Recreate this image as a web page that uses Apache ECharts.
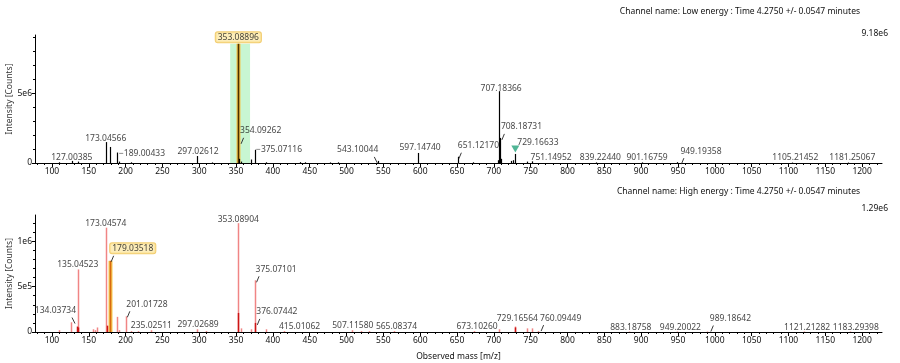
<!DOCTYPE html>
<html>
<head>
<meta charset="utf-8">
<script src="https://cdn.jsdelivr.net/npm/echarts@6/dist/echarts.min.js"></script>
<style>
  html, body { margin: 0; background: #fff; }
  #chart { width: 900px; height: 363px; }
</style>
</head>
<body>
<div id="chart"></div>
<script>
// axis ticks
var xTicks = [100, 150, 200, 250, 300, 350, 400, 450, 500, 550, 600, 650, 700, 750, 800, 850, 900, 950, 1000, 1050, 1100, 1150, 1200];
var lowYTicks = [0, 5e6];
var highYTicks = [0, 5e5, 1e6];

// low energy channel (black sticks)
var lowMass = [110.0, 127.00385, 135.0, 173.04566, 179.04, 189.00433, 191.0, 207.0, 297.02612, 317.0,
  353.08896, 354.09262, 356.1, 370.1, 375.07116, 391.0, 437.0, 444.0, 478.0, 488.0,
  543.10044, 597.14740, 651.12170, 672.0, 705.2, 707.18366, 708.18731, 709.2, 723.2, 726.2,
  729.16633, 745.1, 751.14952, 839.22440, 901.16759, 949.19358, 1105.21452, 1181.25067];
var lowInt = [0.05e6, 0.15e6, 0.1e6, 1.5e6, 1.15e6, 0.75e6, 0.1e6, 0.05e6, 0.5e6, 0.04e6,
  8.55e6, 0.3e6, 0.1e6, 0.25e6, 0.95e6, 0.05e6, 0.06e6, 0.05e6, 0.04e6, 0.05e6,
  0.15e6, 0.72e6, 0.45e6, 0.05e6, 0.2e6, 5.15e6, 1.8e6, 0.3e6, 0.15e6, 0.2e6,
  0.65e6, 0.1e6, 0.12e6, 0.04e6, 0.04e6, 0.06e6, 0.03e6, 0.03e6];
var lowLabels = ['127.00385', '173.04566', '189.00433', '297.02612', '353.08896', '354.09262', '375.07116',
  '543.10044', '597.14740', '651.12170', '707.18366', '708.18731', '729.16633', '751.14952',
  '839.22440', '901.16759', '949.19358', '1105.21452', '1181.25067'];
var lowHighlight = 353.08896;
var lowBand = [342, 369];
var lowMarker = 729.16633;

// high energy channel (red sticks, darker overlay)
var highMass = [110.0, 126.0, 135.04523, 156.0, 158.0, 161.0, 173.04574, 179.03518, 189.0, 191.0,
  201.01728, 207.0, 217.0, 235.02511, 297.02689, 309.0, 353.08904, 356.1, 370.1, 375.07101,
  391.1, 415.01062, 507.11580, 519.0, 531.0, 565.08374, 673.10260, 707.2, 729.16564, 745.2,
  751.2, 760.09449, 883.18758, 949.20022, 989.18642, 1121.21282, 1183.29398];
var highInt = [0.2e5, 1.07e5, 6.9e5, 0.3e5, 0.2e5, 0.5e5, 11.5e5, 7.85e5, 1.67e5, 0.2e5,
  1.73e5, 0.1e5, 0.1e5, 0.2e5, 0.3e5, 0.1e5, 12.0e5, 0.4e5, 0.3e5, 5.7e5,
  0.3e5, 0.1e5, 0.2e5, 0.1e5, 0.1e5, 0.1e5, 0.1e5, 0.3e5, 0.6e5, 0.4e5,
  0.4e5, 0.1e5, 0.05e5, 0.05e5, 0.05e5, 0.05e5, 0.05e5];
var highDarkMass = [134.03734, 136.0, 175.0, 353.1, 376.07442, 729.2];
var highDarkInt = [0.6e5, 0.5e5, 0.7e5, 2.1e5, 1.0e5, 0.5e5];
var highLabels = ['134.03734', '135.04523', '173.04574', '179.03518', '201.01728', '235.02511', '297.02689',
  '353.08904', '375.07101', '376.07442', '415.01062', '507.11580', '565.08374', '673.10260',
  '729.16564', '760.09449', '883.18758', '949.20022', '989.18642', '1121.21282', '1183.29398'];
var highHighlight = 179.03518;

// label placement tweaks (pixels); lead = short leader mark under the label
var lowPlace = {
  '127.00385': { dy: 3 }, '173.04566': { dy: 2 }, '189.00433': { pos: 'right', dash: true, dy: 1 },
  '297.02612': { dx: 1, dy: 2 }, '353.08896': { box: true }, '354.09262': { align: 'left', dx: 1, dy: -22, lead: '/' },
  '375.07116': { pos: 'right', dash: true }, '543.10044': { align: 'right', dy: -5, lead: '\\' },
  '597.14740': { dx: 2, dy: 1 }, '651.12170': { align: 'left', dy: -5, lead: '/' }, '707.18366': { dx: 2, dy: 3 },
  '708.18731': { align: 'left', dx: 1, dy: -5, lead: '/' }, '729.16633': { align: 'left', dx: 2, dy: -5 },
  '751.14952': { align: 'left', dx: -1, dy: 2 }, '839.22440': { dx: 4, dy: 1 }, '901.16759': { dx: 5, dy: 1 },
  '949.19358': { align: 'left', dx: 3, dy: -5, lead: '/' }, '1105.21452': { dx: 3, dy: 1 }, '1181.25067': { dx: 4, dy: 1 }
};
var highPlace = {
  '134.03734': { align: 'right', dx: -1, dy: -10, lead: '\\' }, '135.04523': { dy: 1 }, '173.04574': { dy: 2 },
  '179.03518': { align: 'left', dy: -6, box: true, lead: '/' }, '201.01728': { align: 'left', dy: -6, lead: '/' },
  '235.02511': { dy: 1 }, '297.02689': { dx: 1, dy: 1 }, '353.08904': { dy: 2 },
  '375.07101': { align: 'left', dx: 1, dy: -5, lead: '/' }, '376.07442': { align: 'left', dx: 1, dy: -5, lead: '/' },
  '415.01062': { align: 'left', dx: -5, dy: 1 }, '507.11580': { dx: 1, dy: 1 }, '565.08374': { dx: 2, dy: 1 },
  '673.10260': { dx: 3, dy: 1 }, '729.16564': { dx: 2, dy: -2 }, '760.09449': { align: 'left', dx: 2, dy: -7, lead: '/' },
  '883.18758': { dx: 2, dy: 2 }, '949.20022': { dx: 3, dy: 2 }, '989.18642': { align: 'left', dx: 3, dy: -7, lead: '/' },
  '1121.21282': { dx: 3, dy: 2 }, '1183.29398': { dx: 6, dy: 2 }
};

var FONT = 'Noto Sans';
var FS = 8.5;
var INK = '#111';

function range(a, b, step) {
  var out = [];
  for (var v = a; v <= b + 1e-9; v += step) out.push(v);
  return out;
}
var xMinor = range(80, 1220, 10).filter(function (v) { return v % 50 !== 0; });

function pairs(mass, ints) {
  return mass.map(function (m, i) { return [m, ints[i]]; });
}

function stickSeries(g, mass, ints, color, width, hl, hlColors) {
  return {
    type: 'custom', xAxisIndex: g * 2, yAxisIndex: g * 2, silent: true, z: 3,
    data: pairs(mass, ints),
    encode: { x: 0, y: 1 },
    renderItem: function (params, api) {
      var m = api.value(0);
      var p0 = api.coord([m, 0]);
      var p1 = api.coord([m, api.value(1)]);
      var x = Math.round(p0[0]) + 0.5;
      if (m === hl) {
        return {
          type: 'group', children: [
            { type: 'line', shape: { x1: x, y1: p0[1], x2: x, y2: p1[1] }, style: { stroke: hlColors[0], lineWidth: 4 } },
            { type: 'line', shape: { x1: x, y1: p0[1], x2: x, y2: p1[1] }, style: { stroke: hlColors[1], lineWidth: 1.6 } }
          ]
        };
      }
      return { type: 'line', shape: { x1: x, y1: p0[1], x2: x, y2: p1[1] }, style: { stroke: color, lineWidth: width } };
    }
  };
}

function peakValue(t, mass, ints) {
  return ints[mass.indexOf(parseFloat(t))];
}

function labelSeries(g, labels, mass, ints, place) {
  var data = labels.map(function (t) {
    var p = place[t] || {};
    var lab = {
      show: true, formatter: (p.dash ? '\u2212' : '') + t,
      position: p.pos || 'top', offset: [p.dx || 0, p.dy || 0]
    };
    if (p.align) lab.align = p.align;
    if (p.box) {
      lab.backgroundColor = '#fde9a8';
      lab.borderColor = '#efc04e';
      lab.borderWidth = 1;
      lab.borderRadius = 2;
      lab.padding = [1, 2, 0, 2];
    }
    return { value: [parseFloat(t), peakValue(t, mass, ints)], label: lab };
  });
  return {
    type: 'scatter', xAxisIndex: g * 2, yAxisIndex: g * 2, silent: true, z: 5,
    symbolSize: 1, itemStyle: { color: 'rgba(0,0,0,0)' },
    label: { distance: 1, fontFamily: FONT, fontSize: FS, color: INK },
    data: data
  };
}

// short slanted leader marks hanging under some labels
function leaderSeries(g, labels, mass, ints, place) {
  var data = [];
  labels.forEach(function (t, i) {
    var p = place[t] || {};
    if (p.lead) data.push([parseFloat(t), peakValue(t, mass, ints), i]);
  });
  return {
    type: 'custom', xAxisIndex: g * 2, yAxisIndex: g * 2, silent: true, z: 4,
    data: data,
    renderItem: function (params, api) {
      var t = labels[api.value(2)];
      var p = place[t];
      var c = api.coord([api.value(0), api.value(1)]);
      var lb = c[1] - 1 + (p.dy || 0);
      var x = c[0] + (p.dx || 0);
      var shape = p.lead === '/'
        ? { x1: x + 1, y1: lb + 8, x2: x + 3.5, y2: lb + 2 }
        : { x1: x - 4, y1: lb + 2, x2: x - 1, y2: lb + 8 };
      return { type: 'line', shape: shape, style: { stroke: '#222', lineWidth: 0.9 } };
    }
  };
}

function xAxes(g, named) {
  var main = {
    type: 'value', gridIndex: g, min: 77, max: 1227, position: 'bottom',
    axisLine: { show: true, onZero: false, lineStyle: { color: '#000', width: 1 } },
    axisTick: { show: true, length: 4, customValues: xTicks, lineStyle: { color: '#000' } },
    axisLabel: {
      customValues: xTicks, fontFamily: FONT, fontSize: FS, color: INK, margin: 4,
      formatter: function (v) { return String(v); }
    },
    splitLine: { show: false }
  };
  if (named) {
    main.name = 'Observed mass [m/z]';
    main.nameLocation = 'middle';
    main.nameGap = 20;
    main.nameMoveOverlap = false;
    main.nameTextStyle = { fontFamily: FONT, fontSize: FS, color: INK };
  }
  var minor = {
    type: 'value', gridIndex: g, min: 77, max: 1227, position: 'bottom',
    axisLine: { show: false, onZero: false },
    axisTick: { show: true, length: 2, customValues: xMinor, lineStyle: { color: '#000' } },
    axisLabel: { show: false }, splitLine: { show: false }
  };
  return [main, minor];
}

function yAxes(g, max, ticks, minorTicks) {
  var main = {
    type: 'value', gridIndex: g, min: 0, max: max, position: 'left',
    name: 'Intensity [Counts]', nameLocation: 'middle', nameGap: 21, nameMoveOverlap: false,
    nameTextStyle: { fontFamily: FONT, fontSize: FS, color: '#333' },
    axisLine: { show: true, lineStyle: { color: '#000', width: 1 } },
    axisTick: { show: true, length: 3, customValues: ticks, lineStyle: { color: '#000' } },
    axisLabel: {
      customValues: ticks, fontFamily: FONT, fontSize: FS, color: INK, margin: 3,
      formatter: function (v) {
        if (v === 0) return '0';
        var e = Math.floor(Math.log10(v));
        return Math.round(v / Math.pow(10, e)) + 'e' + e;
      }
    },
    splitLine: { show: false }
  };
  var minor = {
    type: 'value', gridIndex: g, min: 0, max: max, position: 'left',
    axisLine: { show: false, onZero: false },
    axisTick: { show: true, length: 2, customValues: minorTicks, lineStyle: { color: '#000' } },
    axisLabel: { show: false }, splitLine: { show: false }
  };
  return [main, minor];
}

var titleStyle = { fontFamily: FONT, fontSize: FS, fontWeight: 'normal', color: INK };

var chart = echarts.init(document.getElementById('chart'), null, { renderer: 'canvas' });
chart.setOption({
  animation: false,
  backgroundColor: '#fff',
  title: [
    { text: 'Channel name: Low energy : Time 4.2750 +/- 0.0547 minutes', right: 35, top: 2, textStyle: titleStyle },
    { text: '9.18e6', right: 7, top: 24, textStyle: titleStyle },
    { text: 'Channel name: High energy : Time 4.2750 +/- 0.0547 minutes', right: 35, top: 182, textStyle: titleStyle },
    { text: '1.29e6', right: 7, top: 199, textStyle: titleStyle }
  ],
  grid: [
    { left: 35, right: 18, top: 35, height: 128, outerBoundsMode: 'none', containLabel: false },
    { left: 35, right: 18, top: 215, height: 117, outerBoundsMode: 'none', containLabel: false }
  ],
  xAxis: xAxes(0, false).concat(xAxes(1, true)),
  yAxis: yAxes(0, 9.18e6, lowYTicks, range(1e6, 9e6, 1e6).filter(function (v) { return v !== 5e6; }))
    .concat(yAxes(1, 1.29e6, highYTicks, range(1e5, 1.2e6, 1e5).filter(function (v) { return Math.abs(v - 5e5) > 1 && Math.abs(v - 1e6) > 1; }))),
  series: [
    {
      // highlight band around the selected precursor
      type: 'custom', xAxisIndex: 0, yAxisIndex: 0, silent: true, z: 1,
      data: [[lowBand[0], lowBand[1], lowInt[lowMass.indexOf(lowHighlight)]]],
      renderItem: function (params, api) {
        var a = api.coord([api.value(0), api.value(2)]);
        var b = api.coord([api.value(1), 0]);
        return { type: 'rect', shape: { x: a[0], y: a[1], width: b[0] - a[0], height: b[1] - a[1] }, style: { fill: '#c8f6d2' } };
      }
    },
    stickSeries(0, lowMass, lowInt, '#000', 1.2, lowHighlight, ['#f2c44c', '#4a3000']),
    labelSeries(0, lowLabels, lowMass, lowInt, lowPlace),
    leaderSeries(0, lowLabels, lowMass, lowInt, lowPlace),
    {
      type: 'scatter', xAxisIndex: 0, yAxisIndex: 0, silent: true, z: 6,
      symbol: 'triangle', symbolRotate: 180, symbolSize: [8, 7], symbolOffset: [0, -5],
      itemStyle: { color: '#24a37a' },
      data: [[lowMarker, lowInt[lowMass.indexOf(lowMarker)]]]
    },
    stickSeries(1, highMass, highInt, '#f08585', 1.5, highHighlight, ['#f6c650', '#d86a10']),
    stickSeries(1, highDarkMass, highDarkInt, '#cc1515', 1.5, null, null),
    labelSeries(1, highLabels, highMass.concat(highDarkMass), highInt.concat(highDarkInt), highPlace),
    leaderSeries(1, highLabels, highMass.concat(highDarkMass), highInt.concat(highDarkInt), highPlace)
  ]
});
</script>
</body>
</html>
